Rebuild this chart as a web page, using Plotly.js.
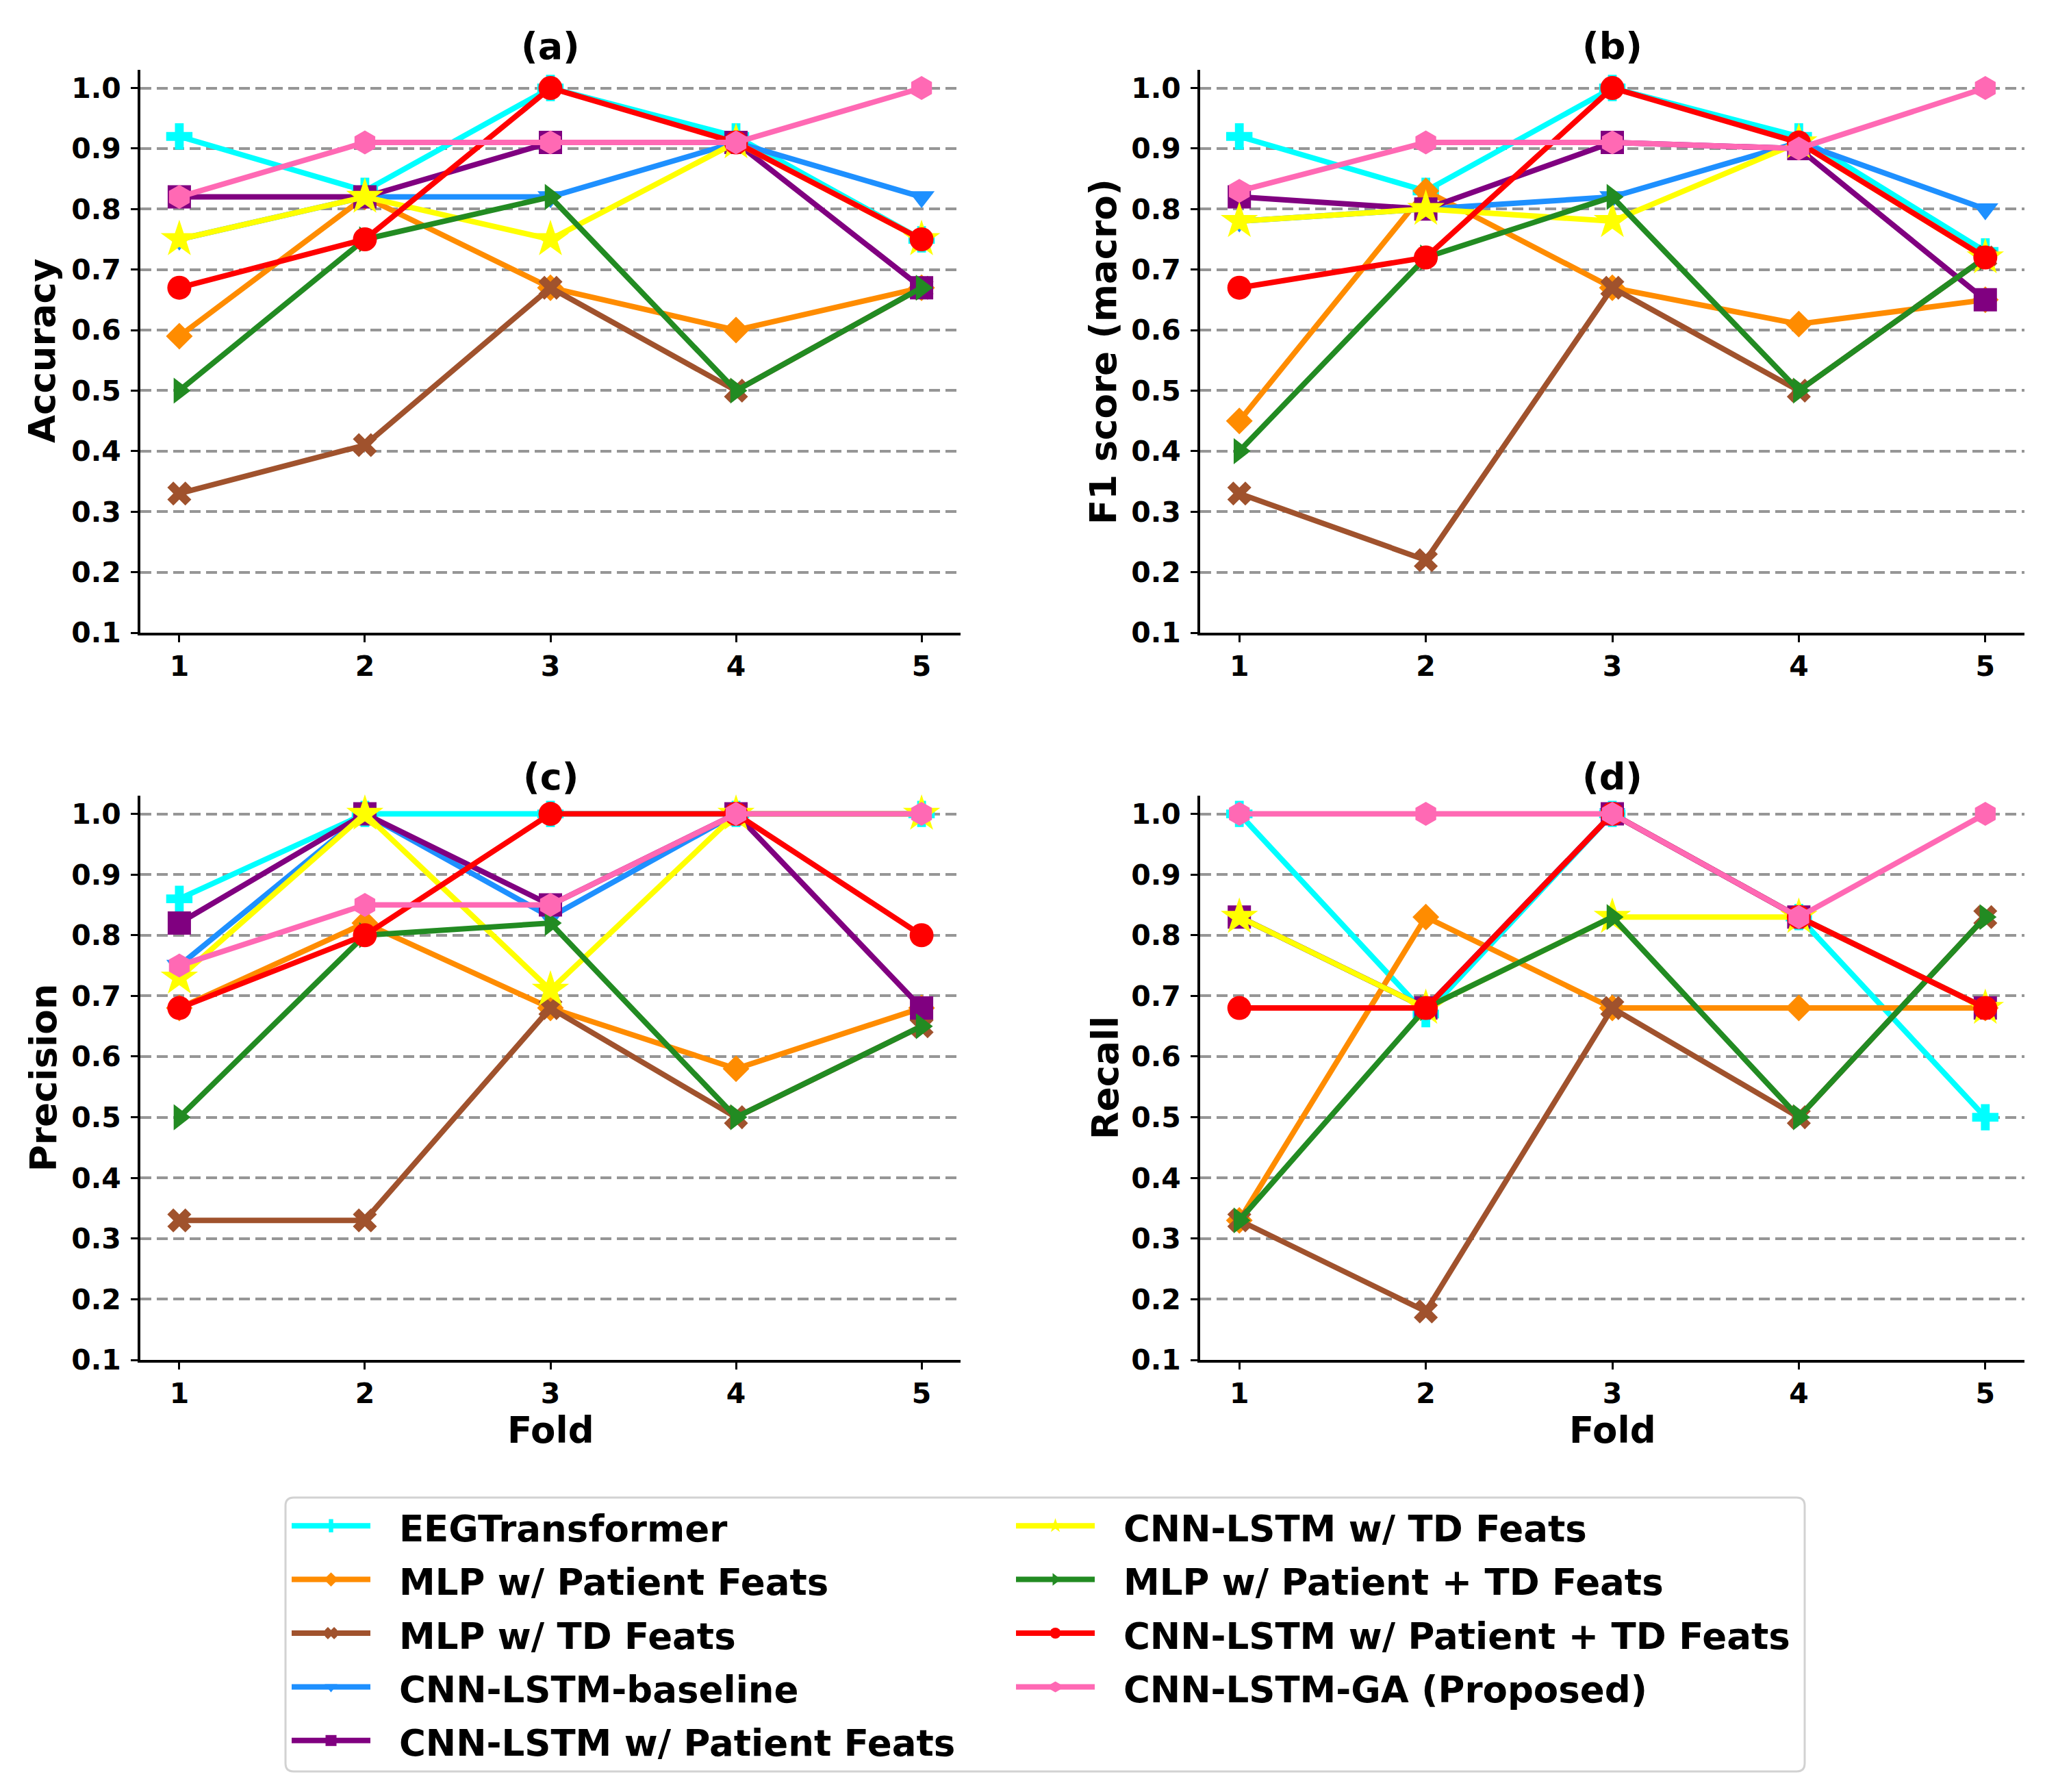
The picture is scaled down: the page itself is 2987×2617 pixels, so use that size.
<!DOCTYPE html>
<html>
<head>
<meta charset="utf-8">
<script src="https://cdn.plot.ly/plotly-3.0.1.min.js"></script>
<style>
  html, body { margin: 0; padding: 0; background: #ffffff; }
  #chart { width: 2987px; height: 2617px; }
</style>
</head>
<body>
<div id="chart"></div>
<script>
// ---------------- data ----------------
const folds = [1, 2, 3, 4, 5];

const modelNames = [
  'EEGTransformer',
  'MLP w/ Patient Feats',
  'MLP w/ TD Feats',
  'CNN-LSTM-baseline',
  'CNN-LSTM w/ Patient Feats',
  'CNN-LSTM w/ TD Feats',
  'MLP w/ Patient + TD Feats',
  'CNN-LSTM w/ Patient + TD Feats',
  'CNN-LSTM-GA (Proposed)'
];

// rows follow modelNames order, columns follow folds
const accuracy = [
  [0.92, 0.83, 1.00, 0.92, 0.75],
  [0.59, 0.82, 0.67, 0.60, 0.67],
  [0.33, 0.41, 0.67, 0.50, 0.67],
  [0.75, 0.82, 0.82, 0.91, 0.82],
  [0.82, 0.82, 0.91, 0.91, 0.67],
  [0.75, 0.82, 0.75, 0.91, 0.75],
  [0.50, 0.75, 0.82, 0.50, 0.67],
  [0.67, 0.75, 1.00, 0.91, 0.75],
  [0.82, 0.91, 0.91, 0.91, 1.00]
];

const f1Macro = [
  [0.92, 0.83, 1.00, 0.92, 0.73],
  [0.45, 0.83, 0.67, 0.61, 0.65],
  [0.33, 0.22, 0.67, 0.50, 0.72],
  [0.78, 0.80, 0.82, 0.91, 0.80],
  [0.82, 0.80, 0.91, 0.90, 0.65],
  [0.78, 0.80, 0.78, 0.91, 0.72],
  [0.40, 0.72, 0.82, 0.50, 0.72],
  [0.67, 0.72, 1.00, 0.91, 0.72],
  [0.83, 0.91, 0.91, 0.90, 1.00]
];

const precision = [
  [0.86, 1.00, 1.00, 1.00, 1.00],
  [0.68, 0.82, 0.68, 0.58, 0.68],
  [0.33, 0.33, 0.68, 0.50, 0.65],
  [0.75, 1.00, 0.83, 1.00, 1.00],
  [0.82, 1.00, 0.85, 1.00, 0.68],
  [0.73, 1.00, 0.71, 1.00, 1.00],
  [0.50, 0.80, 0.82, 0.50, 0.65],
  [0.68, 0.80, 1.00, 1.00, 0.80],
  [0.75, 0.85, 0.85, 1.00, 1.00]
];

const recall = [
  [1.00, 0.67, 1.00, 0.83, 0.50],
  [0.33, 0.83, 0.68, 0.68, 0.68],
  [0.33, 0.18, 0.68, 0.50, 0.83],
  [0.83, 0.68, 1.00, 0.83, 0.68],
  [0.83, 0.68, 1.00, 0.83, 0.68],
  [0.83, 0.68, 0.83, 0.83, 0.68],
  [0.33, 0.68, 0.83, 0.50, 0.83],
  [0.68, 0.68, 1.00, 0.83, 0.68],
  [1.00, 1.00, 1.00, 0.83, 1.00]
];

const yTickVals = [0.1, 0.2, 0.3, 0.4, 0.5, 0.6, 0.7, 0.8, 0.9, 1.0];
const yTickText = ['0.1', '0.2', '0.3', '0.4', '0.5', '0.6', '0.7', '0.8', '0.9', '1.0'];
const panelLetters = ['(a)', '(b)', '(c)', '(d)'];
const yTitles = ['Accuracy', 'F1 score (macro)', 'Precision', 'Recall'];
const xTitle = 'Fold';

// ---------------- styles ----------------
const colors = ['#00FFFF', '#FF8C00', '#A0522D', '#1E90FF', '#800080',
                '#FFFF00', '#228B22', '#FF0000', '#FF69B4'];
const symbols = ['cross', 'diamond', 'x', 'triangle-down', 'square',
                 'star', 'triangle-right', 'circle', 'hexagon'];
const markerSizes = [32, 30, 31, 33, 34, 41, 33, 35, 35];

const FONT = 'DejaVu Sans, Noto Sans, sans-serif';
const LEGEND_TEXT_PX = 53;
const metrics = [accuracy, f1Macro, precision, recall];

const traces = [];
metrics.forEach((metric, p) => {
  const ax = p === 0 ? '' : String(p + 1);
  metric.forEach((vals, i) => {
    traces.push({
      type: 'scatter',
      mode: 'lines+markers',
      x: folds,
      y: vals,
      xaxis: 'x' + ax,
      yaxis: 'y' + ax,
      name: '<span style="font-size:' + LEGEND_TEXT_PX + 'px">\u00A0\u00A0' + modelNames[i] + '</span>',
      legend: i < 5 ? 'legend' : 'legend2',
      legendgroup: modelNames[i],
      showlegend: p === 0,
      line: { color: colors[i], width: 8 },
      marker: { color: colors[i], symbol: symbols[i], size: markerSizes[i], line: { width: 0 } },
      cliponaxis: false
    });
  });
});

// ---------------- layout ----------------
const W = 2987, H = 2617;
const xDomL = [205 / W, 1403 / W];
const xDomR = [1753 / W, 2957 / W];
const yDomT = [1 - 924 / H, 1 - 102 / H];
const yDomB = [1 - 1986 / H, 1 - 1162 / H];

function xAxis(domain, anchor) {
  return {
    domain: domain, anchor: anchor,
    range: [0.79, 5.21],
    tickvals: folds, ticktext: folds.map(String),
    showgrid: false, zeroline: false,
    showline: true, linecolor: '#000000', linewidth: 4,
    ticks: 'outside', ticklen: 10, tickwidth: 3, tickcolor: '#000000',
    ticklabelstandoff: 0,
    tickfont: { family: FONT, size: 41, color: '#000000', weight: 'bold' },
    fixedrange: true
  };
}
function yAxis(domain, anchor) {
  return {
    domain: domain, anchor: anchor,
    range: [0.1, 1.03],
    tickvals: yTickVals, ticktext: yTickText,
    showgrid: true, gridcolor: '#969696', gridwidth: 4, griddash: '16px,8px',
    zeroline: false,
    showline: true, linecolor: '#000000', linewidth: 4,
    ticks: 'outside', ticklen: 10, tickwidth: 3, tickcolor: '#000000',
    ticklabelstandoff: 6,
    tickfont: { family: FONT, size: 41, color: '#000000', weight: 'bold' },
    fixedrange: true
  };
}

const annotations = [];
const panelX = [xDomL, xDomR, xDomL, xDomR];
const panelY = [yDomT, yDomT, yDomB, yDomB];
const titleY = [1 - 67 / H, 1 - 67 / H, 1 - 1134 / H, 1 - 1134 / H];
const yTitleX = [61 / W, 1611 / W, 63 / W, 1614 / W];
for (let p = 0; p < 4; p++) {
  const cx = (panelX[p][0] + panelX[p][1]) / 2;
  annotations.push({
    text: panelLetters[p], xref: 'paper', yref: 'paper',
    x: cx, y: titleY[p], xanchor: 'center', yanchor: 'middle', showarrow: false,
    font: { family: FONT, size: 54, color: '#000000', weight: 'bold' }
  });
  annotations.push({
    text: yTitles[p], xref: 'paper', yref: 'paper', textangle: -90,
    x: yTitleX[p], y: (panelY[p][0] + panelY[p][1]) / 2,
    xanchor: 'center', yanchor: 'middle', showarrow: false,
    font: { family: FONT, size: 53, color: '#000000', weight: 'bold' }
  });
  if (p >= 2) {
    annotations.push({
      text: xTitle, xref: 'paper', yref: 'paper',
      x: cx, y: 1 - 2088 / H, xanchor: 'center', yanchor: 'middle', showarrow: false,
      font: { family: FONT, size: 53, color: '#000000', weight: 'bold' }
    });
  }
}

// legend frame (rounded rectangle, in paper coordinates)
const bx0 = 417 / W, bx1 = 2636 / W, by0 = 1 - 2587 / H, by1 = 1 - 2187 / H;
const rx = 12 / W, ry = 12 / H;
const framePath =
  'M' + (bx0 + rx) + ',' + by1 +
  ' L' + (bx1 - rx) + ',' + by1 +
  ' Q' + bx1 + ',' + by1 + ' ' + bx1 + ',' + (by1 - ry) +
  ' L' + bx1 + ',' + (by0 + ry) +
  ' Q' + bx1 + ',' + by0 + ' ' + (bx1 - rx) + ',' + by0 +
  ' L' + (bx0 + rx) + ',' + by0 +
  ' Q' + bx0 + ',' + by0 + ' ' + bx0 + ',' + (by0 + ry) +
  ' L' + bx0 + ',' + (by1 - ry) +
  ' Q' + bx0 + ',' + by1 + ' ' + (bx0 + rx) + ',' + by1 + ' Z';

function legendCfg(xPx) {
  return {
    orientation: 'v',
    x: xPx / W, xanchor: 'left',
    y: 1 - 2184 / H, yanchor: 'top',
    traceorder: 'normal',
    itemwidth: 115,
    itemsizing: 'trace',
    bgcolor: 'rgba(0,0,0,0)', bordercolor: 'rgba(0,0,0,0)', borderwidth: 0,
    font: { family: FONT, size: 58, color: '#000000', weight: 'bold' }
  };
}

const layout = {
  width: W, height: H,
  margin: { l: 0, r: 0, t: 0, b: 0, pad: 0 },
  paper_bgcolor: '#ffffff', plot_bgcolor: '#ffffff',
  font: { family: FONT, color: '#000000' },
  showlegend: true,
  xaxis: xAxis(xDomL, 'y'),
  yaxis: yAxis(yDomT, 'x'),
  xaxis2: xAxis(xDomR, 'y2'),
  yaxis2: yAxis(yDomT, 'x2'),
  xaxis3: xAxis(xDomL, 'y3'),
  yaxis3: yAxis(yDomB, 'x3'),
  xaxis4: xAxis(xDomR, 'y4'),
  yaxis4: yAxis(yDomB, 'x4'),
  legend: legendCfg(421),
  legend2: legendCfg(1479),
  shapes: [{
    type: 'path', xref: 'paper', yref: 'paper', path: framePath,
    line: { color: '#d2d2d2', width: 3 }, fillcolor: 'rgba(0,0,0,0)', layer: 'above'
  }],
  annotations: annotations
};

Plotly.newPlot('chart', traces, layout, { staticPlot: true, displayModeBar: false });
</script>
</body>
</html>
